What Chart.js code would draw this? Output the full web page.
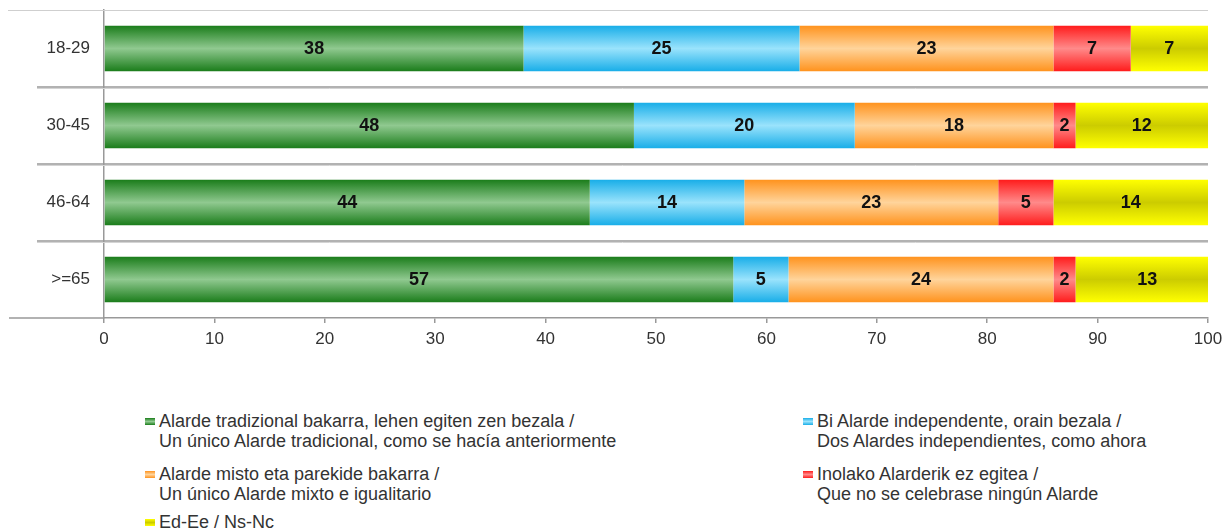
<!DOCTYPE html>
<html>
<head>
<meta charset="utf-8">
<script src="https://cdn.jsdelivr.net/npm/chart.js@4.4.0/dist/chart.umd.min.js"></script>
<style>
  body { margin: 0; background: #fff; font-family: "Liberation Sans", Arial, sans-serif; }
  #wrap { position: relative; width: 1223px; height: 530px; overflow: hidden; }
  #chartBox { position: absolute; left: 0; top: 0; width: 1223px; height: 351px; }
  .item { position: absolute; font-size: 18px; line-height: 20px; color: #333; white-space: nowrap; }
  .item .sw { position: absolute; left: -14px; top: 7px; width: 10px; height: 7px; }
</style>
</head>
<body>
<div id="wrap">
  <div id="chartBox"><canvas id="chart"></canvas></div>
  <div id="legend"></div>
</div>
<script>
const categories = ['18-29', '30-45', '46-64', '>=65'];

const tradicional = [38, 48, 44, 57];
const independientes = [25, 20, 14, 5];
const mixto = [23, 18, 23, 24];
const ninguno = [7, 2, 5, 2];
const nsnc = [7, 12, 14, 13];

const seriesLabels = [
    ['Alarde tradizional bakarra, lehen egiten zen bezala /', 'Un único Alarde tradicional, como se hacía anteriormente'],
    ['Bi Alarde independente, orain bezala /', 'Dos Alardes independientes, como ahora'],
    ['Alarde misto eta parekide bakarra /', 'Un único Alarde mixto e igualitario'],
    ['Inolako Alarderik ez egitea /', 'Que no se celebrase ningún Alarde'],
    ['Ed-Ee / Ns-Nc']
];

// edge colour, centre colour of each bar gradient
const palette = [
    ['#1b7d1b', '#90c990'],
    ['#19aee8', '#9ae3fc'],
    ['#ff931e', '#ffd49b'],
    ['#ff1c1c', '#ff8a8a'],
    ['#ffff00', '#cccc00']
];

const BAR_PCT = 0.59;

function barGradient(i) {
    return (ctx) => {
        const chart = ctx.chart;
        const ys = chart.scales.y;
        if (ctx.type !== 'data' || !ys || !ys.height) return palette[i][0];
        const center = ys.getPixelForValue(ctx.dataIndex);
        const half = ys.height / categories.length * BAR_PCT / 2;
        const g = chart.ctx.createLinearGradient(0, center - half, 0, center + half);
        g.addColorStop(0, palette[i][0]);
        g.addColorStop(0.5, palette[i][1]);
        g.addColorStop(1, palette[i][0]);
        return g;
    };
}

const seriesValues = [tradicional, independientes, mixto, ninguno, nsnc];

const datasets = seriesValues.map((values, i) => ({
    label: seriesLabels[i].join(' '),
    data: values,
    backgroundColor: barGradient(i),
    borderWidth: 0,
    categoryPercentage: 1,
    barPercentage: BAR_PCT
}));

// horizontal rules: light top line, separators between groups, long bottom axis
const rulesPlugin = {
    id: 'rules',
    beforeDatasetsDraw(chart) {
        const { ctx, chartArea } = chart;
        const band = (chartArea.bottom - chartArea.top) / categories.length;
        ctx.save();
        ctx.strokeStyle = '#cfcfcf';
        ctx.lineWidth = 1;
        ctx.beginPath();
        ctx.moveTo(8, chartArea.top + 0.5);
        ctx.lineTo(chartArea.right, chartArea.top + 0.5);
        ctx.stroke();
        for (let k = 1; k < categories.length; k++) {
            const y = Math.round(chartArea.top + k * band);
            ctx.strokeStyle = '#d4d4d4';
            ctx.lineWidth = 1;
            ctx.beginPath();
            ctx.moveTo(37, y + 1.5);
            ctx.lineTo(chartArea.right, y + 1.5);
            ctx.stroke();
            ctx.strokeStyle = '#999';
            ctx.lineWidth = 1.5;
            ctx.beginPath();
            ctx.moveTo(37, y);
            ctx.lineTo(chartArea.right, y);
            ctx.stroke();
        }
        ctx.strokeStyle = '#999';
        ctx.lineWidth = 1.5;
        ctx.beginPath();
        ctx.moveTo(9, chartArea.bottom);
        ctx.lineTo(chartArea.left, chartArea.bottom);
        ctx.stroke();
        ctx.restore();
    }
};

const valueLabelsPlugin = {
    id: 'valueLabels',
    afterDatasetsDraw(chart) {
        const { ctx } = chart;
        ctx.save();
        ctx.font = 'bold 18px "Liberation Sans Narrow", "Liberation Sans", Arial, sans-serif';
        ctx.fillStyle = '#111';
        ctx.textAlign = 'center';
        ctx.textBaseline = 'middle';
        chart.data.datasets.forEach((ds, i) => {
            chart.getDatasetMeta(i).data.forEach((el, j) => {
                ctx.fillText(String(ds.data[j]), (el.x + el.base) / 2, el.y + 1);
            });
        });
        ctx.restore();
    }
};

Chart.defaults.font.family = '"Liberation Sans", Arial, sans-serif';
Chart.defaults.font.size = 17;
Chart.defaults.color = '#333';

new Chart(document.getElementById('chart'), {
    type: 'bar',
    data: { labels: categories, datasets },
    options: {
        indexAxis: 'y',
        responsive: true,
        maintainAspectRatio: false,
        animation: false,
        layout: { padding: { top: 10, right: 15, left: 0, bottom: 0 } },
        plugins: {
            legend: { display: false },
            tooltip: { enabled: false }
        },
        scales: {
            x: {
                stacked: true,
                min: 0,
                max: 100,
                ticks: { stepSize: 10, padding: 6, color: '#333' },
                grid: { drawOnChartArea: false, tickLength: 5, color: '#999', lineWidth: 1.5 },
                border: { color: '#999', width: 1.5 },
                afterFit: (s) => {
                    s.height = 33;
                    s.paddingLeft = 0;
                    s.paddingRight = 0;
                }
            },
            y: {
                stacked: true,
                ticks: { padding: 14, color: '#333' },
                grid: { drawOnChartArea: false, drawTicks: false },
                border: { color: '#999', width: 1.5 },
                afterFit: (s) => {
                    s.width = 104;
                    s.paddingTop = 0;
                    s.paddingBottom = 0;
                }
            }
        }
    },
    plugins: [rulesPlugin, valueLabelsPlugin]
});

// legend built from the series labels and palette
const legendPos = [[159, 411], [817, 411], [159, 464], [817, 464], [159, 512]];
const legend = document.getElementById('legend');
seriesLabels.forEach((lines, i) => {
    const item = document.createElement('div');
    item.className = 'item';
    item.style.left = legendPos[i][0] + 'px';
    item.style.top = legendPos[i][1] + 'px';
    const sw = document.createElement('span');
    sw.className = 'sw';
    sw.style.background = `linear-gradient(${palette[i][0]}, ${palette[i][1]}, ${palette[i][0]})`;
    item.appendChild(sw);
    item.insertAdjacentHTML('beforeend', lines.join('<br>'));
    legend.appendChild(item);
});
</script>
</body>
</html>
